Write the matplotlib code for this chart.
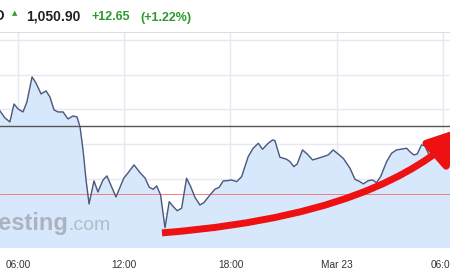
import matplotlib.pyplot as plt
from matplotlib.patches import FancyArrowPatch
from matplotlib.path import Path

plt.rcParams['font.family'] = ['Liberation Sans', 'DejaVu Sans']

# hours since Mar 22 00:00
times = [4.98, 5.26, 5.54, 5.77, 6.00, 6.28, 6.50, 6.79, 7.01, 7.30, 7.58, 7.80,
         8.03, 8.26, 8.54, 8.82, 9.10, 9.33, 9.50, 9.67, 9.84, 10.01, 10.29, 10.51,
         10.80, 11.02, 11.53, 11.98, 12.21, 12.55, 12.89, 13.17, 13.41, 13.64, 13.83,
         14.05, 14.30, 14.54, 14.77, 14.99, 15.24, 15.52, 15.75, 15.99, 16.27, 16.50,
         16.84, 17.12, 17.36, 17.59, 17.82, 18.06, 18.35, 18.63, 19.00, 19.28, 19.57,
         19.81, 20.13, 20.38, 20.51, 20.79, 21.17, 21.36, 21.58, 21.77, 22.07, 22.33,
         22.64, 22.95, 23.24, 23.52, 23.80, 24.08, 24.37, 24.75, 25.03, 25.31, 25.50,
         25.78, 26.03, 26.25, 26.48, 26.82, 27.10, 27.38, 27.95, 28.13, 28.36, 28.55,
         28.79, 28.98, 29.22, 29.45, 29.67, 29.95, 30.40]
prices = [1049.76, 1048.75, 1048.18, 1050.77, 1050.05, 1049.62, 1051.06, 1054.66,
          1053.80, 1052.21, 1052.65, 1051.78, 1049.91, 1049.62, 1049.62, 1048.61,
          1049.04, 1048.90, 1047.45, 1044.14, 1039.81, 1036.35, 1039.67, 1038.08,
          1039.81, 1040.39, 1037.36, 1040.10, 1040.82, 1041.98, 1040.86, 1040.10,
          1038.76, 1038.47, 1038.95, 1037.65, 1032.93, 1036.68, 1035.96, 1035.38,
          1035.73, 1040.06, 1038.85, 1037.32, 1036.21, 1036.54, 1037.65, 1038.47,
          1038.76, 1039.67, 1039.71, 1039.81, 1039.57, 1040.29, 1043.17, 1044.38,
          1045.10, 1044.24, 1045.10, 1045.58, 1045.48, 1043.09, 1042.80, 1042.45,
          1041.73, 1042.12, 1044.14, 1043.56, 1042.70, 1042.94, 1043.17, 1043.42,
          1044.14, 1043.56, 1042.94, 1041.50, 1039.91, 1039.57, 1039.24, 1039.71,
          1039.81, 1039.42, 1040.29, 1042.45, 1043.66, 1044.14, 1044.38, 1043.89,
          1043.42, 1043.56, 1044.86, 1044.76, 1043.42, 1043.27, 1043.09, 1042.8, 1042.6]

tick_pos = [6, 12, 18, 24, 30]
tick_labels = ['06:00', '12:00', '18:00', 'Mar 23', '06:00']
grid_levels = [1030, 1035, 1040, 1045, 1050, 1055, 1060]
black_level = 1047.60
red_level = 1037.79
# bezier control points / tip of the red annotation arrow
arrow_ctrl = [(25.42, 1034.48), (29.15, 1042.41), (31.52, 1047.74)]

fig = plt.figure(figsize=(4.5, 2.7), dpi=100)
ax = fig.add_axes([0, 22 / 270, 1, 216 / 270])

ax.fill_between(times, prices, 1030, color='#d8e8fc', zorder=1)
ax.plot(times, prices, color='#4e5878', linewidth=1.0, zorder=3)

ax.set_xlim(4.98, 30.4)
ax.set_ylim(1030, 1061.15)
ax.set_xticks(tick_pos)
ax.set_xticklabels(tick_labels)
ax.set_yticks(grid_levels)
ax.tick_params(axis='x', length=0, pad=9, labelsize=7.3, labelcolor='#333333')
ax.tick_params(axis='y', length=0, labelleft=False)
ax.grid(color='#e6e9f2', linewidth=1.0, zorder=0)
ax.set_axisbelow(True)
for s in ['left', 'right', 'bottom']:
    ax.spines[s].set_visible(False)
ax.spines['top'].set_color('#dddddd')

ax.axhline(black_level, color='#555555', linewidth=1.0, zorder=4)
ax.axhline(red_level, color='#f08080', linewidth=0.7, zorder=2)

# watermark
ax.text(68 / 450, 0.085, 'Investing', transform=ax.transAxes, ha='right', va='baseline',
        fontsize=17, fontweight='bold', color='#a3aab6', alpha=0.85, zorder=2)
ax.text(68 / 450, 0.085, '.com', transform=ax.transAxes, ha='left', va='baseline',
        fontsize=14, color='#aeb4bf', alpha=0.85, zorder=2)

# red arrow from the low point
i_min = prices.index(min(prices))
start = (times[i_min] - 0.17, prices[i_min] - 0.75)
arrow_path = Path([start] + arrow_ctrl,
                  [Path.MOVETO, Path.CURVE4, Path.CURVE4, Path.CURVE4])
arrow = FancyArrowPatch(path=arrow_path,
                        arrowstyle='-|>,head_length=1.3,head_width=0.55',
                        mutation_scale=20, color='#ee1111', linewidth=5,
                        capstyle='butt', zorder=5, clip_on=False)
ax.add_patch(arrow)

# header
fig.text(5 / 450, 1 - 20.5 / 270, 'BTC/USD', ha='right', va='baseline',
         fontsize=10, fontweight='bold', color='#222222')
fig.text(15 / 450, 1 - 15 / 270, '▲', ha='center', va='baseline',
         fontsize=5, color='#2ca02c', family='DejaVu Sans')
fig.text(26 / 450, 1 - 20.5 / 270, '1,050.90', ha='left', va='baseline',
         fontsize=10, fontweight='bold', color='#222222')
fig.text(92 / 450, 1 - 20.5 / 270, '+12.65', ha='left', va='baseline',
         fontsize=9, fontweight='bold', color='#2e9a2e')
fig.text(140 / 450, 1 - 20.5 / 270, '(+1.22%)', ha='left', va='baseline',
         fontsize=9, fontweight='bold', color='#2e9a2e')

fig.savefig('out.png', dpi=100)
